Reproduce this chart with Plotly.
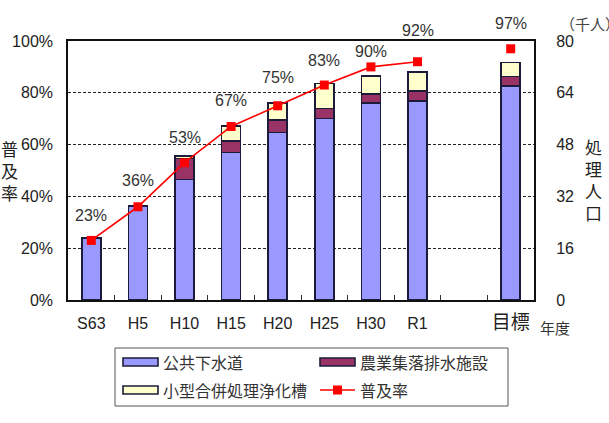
import plotly.graph_objects as go

# ---- data -------------------------------------------------------------
years = ["S63", "H5", "H10", "H15", "H20", "H25", "H30", "R1", " ", "目標"]
sewer = [19.2, 29.1, 37.2, 45.6, 51.8, 56.1, 60.8, 61.5, None, 66.1]        # 公共下水道 (千人)
rural = [0, 0, 6.5, 3.6, 3.8, 3.1, 2.8, 3.1, None, 2.9]                      # 農業集落排水施設 (千人)
septic = [0, 0, 0.8, 4.6, 5.3, 7.7, 5.6, 5.9, None, 4.4]                     # 小型合併処理浄化槽 (千人)
rate = [23, 36, 53, 67, 75, 83, 90, 92, None, 97]                           # 普及率 (%)
rate_labels = ["23%", "36%", "53%", "67%", "75%", "83%", "90%", "92%", "", "97%"]
label_shift = [25, 26, 25, 26, 28, 25, 15, 31, 0, 25]

# ---- layout geometry --------------------------------------------------
W, H = 609, 423
L, R, T, B = 68, 534, 41, 300
PW, PH = R - L, B - T


def px(x):
    return (x - L) / PW


def py(y):
    return (B - y) / PH


FONT = "Liberation Sans, Arial, Noto Sans CJK JP, sans-serif"
JFONT = "Noto Sans CJK JP, sans-serif"
EDGE = "#1c1c3a"
BLUE, PURPLE, CREAM, RED = "#9999FF", "#993366", "#FFFFCC", "#FF0000"

fig = go.Figure()

bar_common = dict(width=0.41, marker_line=dict(color=EDGE, width=1.6), yaxis="y", hoverinfo="skip")
fig.add_bar(x=years, y=sewer, name="公共下水道", marker_color=BLUE, **bar_common)
fig.add_bar(x=years, y=rural, name="農業集落排水施設", marker_color=PURPLE, **bar_common)
fig.add_bar(x=years, y=septic, name="小型合併処理浄化槽", marker_color=CREAM, **bar_common)

fig.add_scatter(
    x=years, y=rate, name="普及率", yaxis="y2", mode="lines+markers",
    line=dict(color=RED, width=1.6), connectgaps=False,
    marker=dict(symbol="square", size=9, color=RED),
)

# percentage labels above the markers
for xv, yv, txt, sh in zip(years, rate, rate_labels, label_shift):
    if yv is None:
        continue
    fig.add_annotation(x=xv, y=yv, xref="x", yref="y2", text=txt, showarrow=False,
                       xanchor="center", yanchor="middle",
                       yshift=sh, font=dict(family=FONT, size=16, color="#333333"))

tick_text = [c if c.strip() else "" for c in years[:-1]] + ["<span style='font-size:19px'>目標</span>"]

fig.update_layout(
    width=W, height=H,
    margin=dict(l=L, r=W - R, t=T, b=H - B, autoexpand=False),
    paper_bgcolor="white", plot_bgcolor="white",
    barmode="stack", bargap=0.59, showlegend=False,
    font=dict(family=FONT, size=16, color="#222222"),
    xaxis=dict(
        type="category", categoryorder="array", categoryarray=years,
        range=[-0.5, len(years) - 0.5],
        tickvals=years, ticktext=tick_text, tickangle=0, automargin=False,
        ticks="inside", tickson="boundaries", ticklen=5, tickcolor="#333",
        tickfont=dict(size=16, family=FONT, color="#222"), ticklabelstandoff=8,
        showline=True, linecolor="#111", linewidth=2, mirror=True,
        showgrid=False,
    ),
    yaxis=dict(
        side="right", range=[0, 80], dtick=16, showgrid=False, automargin=False,
        tickfont=dict(size=16, family=FONT, color="#222"),
        showline=True, linecolor="#111", linewidth=2, mirror=True,
        zeroline=False, ticks="", ticklabelstandoff=17,
    ),
    yaxis2=dict(
        overlaying="y", side="left", range=[0, 100], dtick=20, automargin=False,
        ticksuffix="%", showgrid=True, gridcolor="#222", griddash="3px,2px", gridwidth=1,
        tickfont=dict(size=16, family=FONT, color="#222"),
        showline=False, zeroline=False, ticks="", ticklabelstandoff=14,
    ),
)


def caption(x, y, text, size, anchor="center", color="#222"):
    fig.add_annotation(x=px(x), y=py(y), xref="paper", yref="paper", text=text, showarrow=False,
                       xanchor=anchor, yanchor="middle", font=dict(family=JFONT, size=size, color=color))


# axis captions
caption(555, 327, "年度", 15, color="#333")
caption(9, 170, "普<br>及<br>率", 17)
caption(593, 179, "処<br>理<br>人<br>口", 17)
caption(558, 24, "（千人）", 15, anchor="left", color="#444")

# legend box drawn beneath the chart
fig.add_shape(type="rect", xref="paper", yref="paper", x0=px(115), x1=px(508), y0=py(406), y1=py(348),
              line=dict(color="#555", width=1), fillcolor="white")
legend_items = [
    ("公共下水道", BLUE, 123, 362, "bar"),
    ("農業集落排水施設", PURPLE, 320, 362, "bar"),
    ("小型合併処理浄化槽", CREAM, 123, 390, "bar"),
    ("普及率", RED, 320, 390, "line"),
]
for name, color, x0, yc, kind in legend_items:
    if kind == "bar":
        fig.add_shape(type="rect", xref="paper", yref="paper",
                      x0=px(x0), x1=px(x0 + 35), y0=py(yc + 4), y1=py(yc - 4),
                      line=dict(color=EDGE, width=1.6), fillcolor=color)
    else:
        fig.add_shape(type="line", xref="paper", yref="paper",
                      x0=px(x0), x1=px(x0 + 35), y0=py(yc), y1=py(yc),
                      line=dict(color=color, width=1.6))
        fig.add_shape(type="rect", xref="paper", yref="paper",
                      x0=px(x0 + 13), x1=px(x0 + 22), y0=py(yc + 4.5), y1=py(yc - 4.5),
                      line=dict(color=color, width=0), fillcolor=color)
    caption(x0 + 38, yc, name, 16, anchor="left", color="#333")

fig.write_html("out.html")
